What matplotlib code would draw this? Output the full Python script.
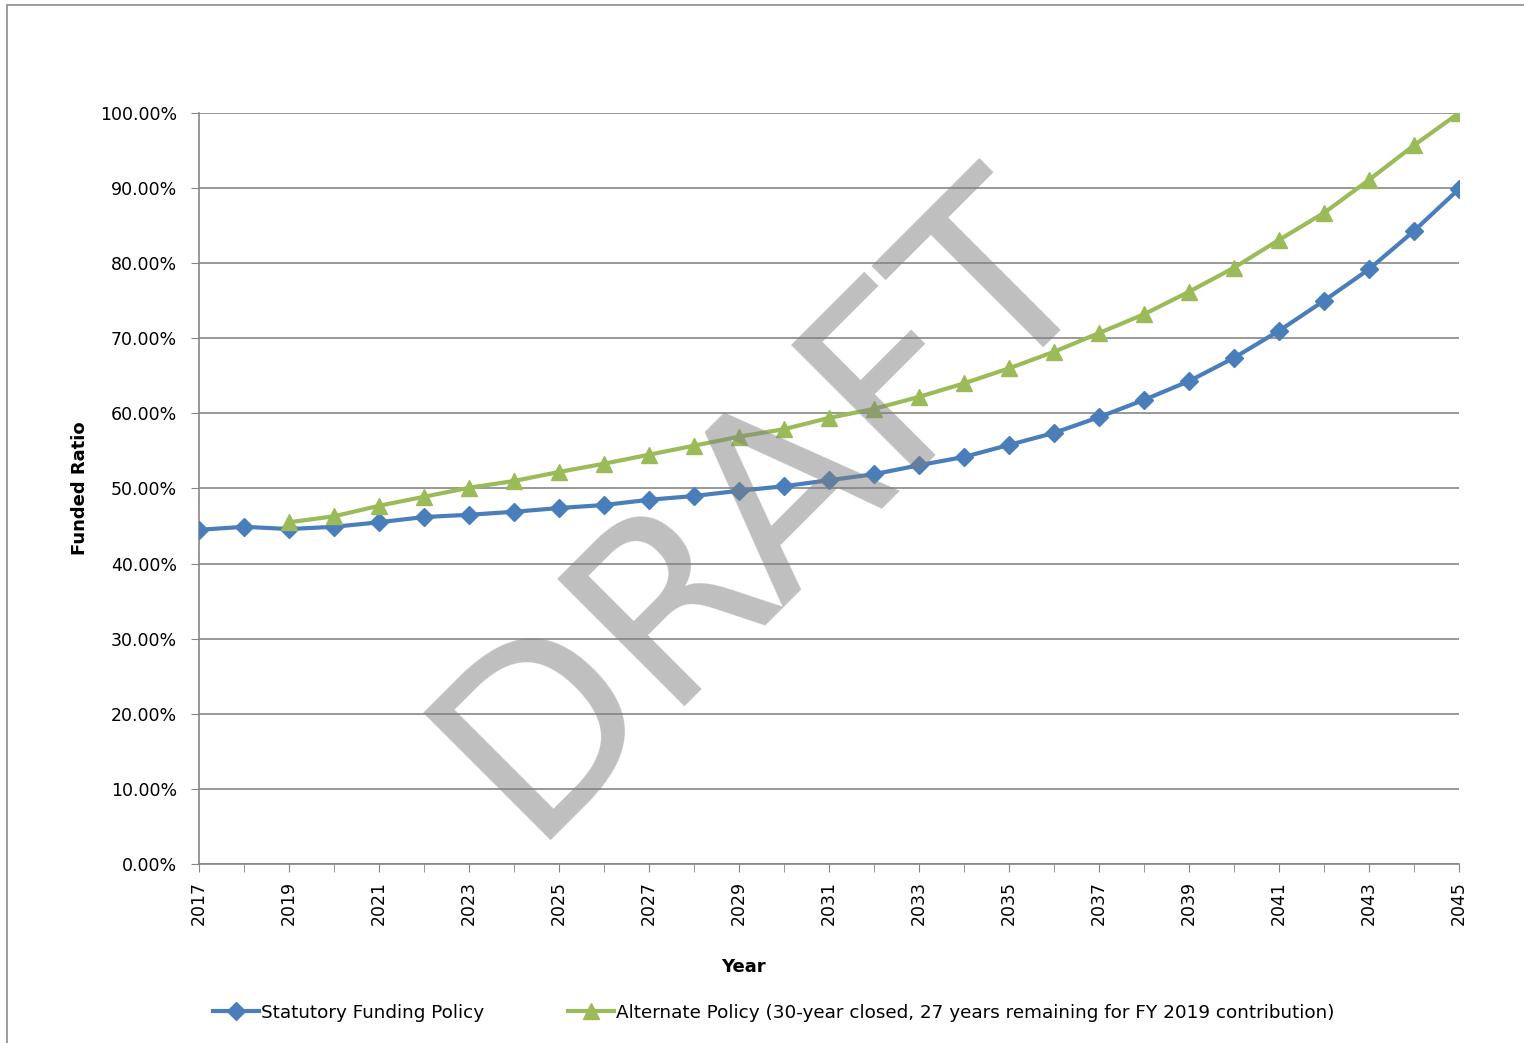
import numpy as np
import matplotlib.pyplot as plt
from matplotlib.patches import Rectangle

years = list(range(2017, 2046))
statutory = [44.5, 44.9, 44.6, 44.9, 45.5, 46.2, 46.5, 46.9, 47.4, 47.8,
             48.5, 49.0, 49.7, 50.3, 51.1, 51.9, 53.1, 54.2, 55.8, 57.4,
             59.5, 61.8, 64.3, 67.4, 71.0, 75.0, 79.2, 84.3, 89.9]
alt_years = list(range(2019, 2046))
alternate = [45.5, 46.3, 47.7, 48.9, 50.1, 51.0, 52.2, 53.3, 54.5, 55.7,
             56.9, 57.9, 59.4, 60.6, 62.2, 64.0, 66.0, 68.2, 70.7, 73.2,
             76.2, 79.4, 83.1, 86.7, 91.1, 95.7, 100.0]

blue = '#4a7ebb'
green = '#9bbb59'
grid_c = '#868686'

plt.rcParams['font.family'] = ['DejaVu Sans']

fig = plt.figure(figsize=(15.24, 10.43), dpi=100)
ax = fig.add_axes([0.1306, 0.1716, 0.8268, 0.7201])

ax.plot(years, statutory, color=blue, linewidth=3, marker='D', markersize=9,
        label='Statutory Funding Policy', zorder=3)
ax.plot(alt_years, alternate, color=green, linewidth=3, marker='^', markersize=12,
        label='Alternate Policy (30-year closed, 27 years remaining for FY 2019 contribution)',
        zorder=3)

ax.set_xlim(2017, 2045)
ax.set_ylim(0, 100)
ax.set_yticks(np.arange(0, 101, 10))
ax.set_yticklabels([f'{v:.2f}%' for v in np.arange(0, 101, 10)], fontsize=12.5)
ax.set_xticks(years, minor=True)
ax.set_xticks(list(range(2017, 2046, 2)))
ax.set_xticklabels([str(y) for y in range(2017, 2046, 2)], rotation=90, fontsize=12.5)
ax.tick_params(axis='x', which='both', direction='out', length=6, color=grid_c, pad=6)
ax.tick_params(axis='y', direction='out', length=6, color=grid_c, pad=10)
ax.yaxis.grid(True, color=grid_c, linewidth=1.2)
ax.set_axisbelow(True)
for s in ['top', 'right']:
    ax.spines[s].set_visible(False)
for s in ['left', 'bottom']:
    ax.spines[s].set_color(grid_c)
    ax.spines[s].set_linewidth(1.2)

ax.set_xlabel('Year', fontsize=13, fontweight='bold')
ax.xaxis.set_label_coords(0.432, -0.125)
ax.set_ylabel('Funded Ratio', fontsize=13, fontweight='bold', labelpad=8)

ax.legend(loc='upper center', bbox_to_anchor=(0.456, -0.164), ncol=2, frameon=False,
          fontsize=13.2, handlelength=2.5, columnspacing=4.6, handletextpad=0.1)

# watermark
fig.text(0.502, 0.515, 'DRAFT', fontsize=178, color='#808080', alpha=0.5,
         rotation=45, ha='center', va='center', zorder=10)

# outer chart border
fig.patches.append(Rectangle((0.0046, -0.01), 1.2, 1.005, transform=fig.transFigure,
                             fill=False, edgecolor='#8c8c8c', linewidth=1.2))

fig.savefig('out.png', dpi=100)
